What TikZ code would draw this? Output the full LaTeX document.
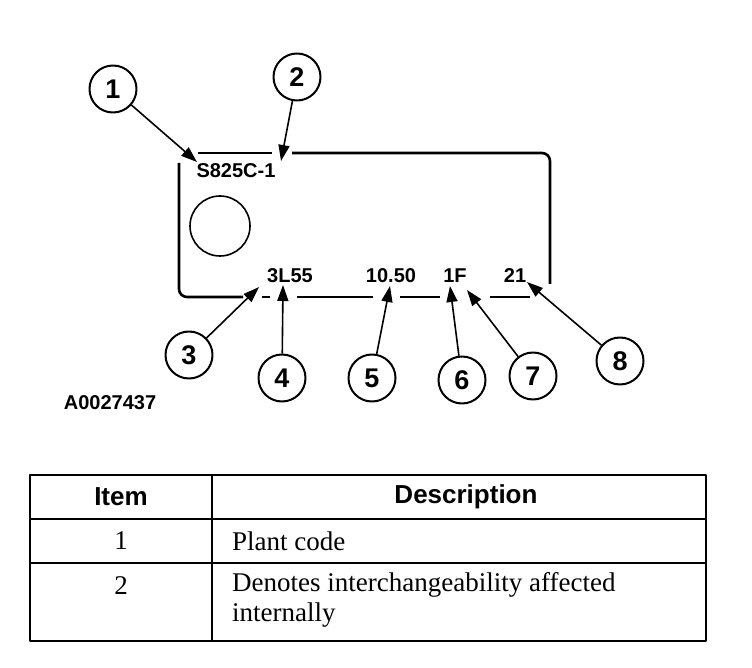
\documentclass[tikz,border=0pt]{standalone}
\usepackage{fontspec}
\setmainfont{Liberation Serif}
\setsansfont{Liberation Sans}
\usetikzlibrary{arrows.meta}

\begin{document}
\begin{tikzpicture}[x=1pt,y=-1pt,line join=round,>={Triangle[length=16pt,width=11pt]}]
	\tikzset{callout/.style={draw,circle,line width=2pt,minimum size=47pt,inner sep=0pt,font=\sffamily\bfseries\fontsize{27}{27}\selectfont},
		platetext/.style={font=\sffamily\bfseries\fontsize{20}{20}\selectfont,inner sep=0pt},
		tabletext/.style={font=\fontsize{27}{30}\selectfont,inner sep=0pt},
		tablehead/.style={font=\sffamily\bfseries\fontsize{26}{26}\selectfont,inner sep=0pt},
		lead/.style={->,line width=1.6pt}}
	\useasboundingbox (0,0) rectangle (752,668);
	% plate outline
	\draw[line width=2.6pt] (198,153)--(272,153);
	\draw[line width=2.6pt,rounded corners=8pt] (292,153)--(550,153)--(550,284);
	\draw[line width=2.6pt,rounded corners=8pt] (179,163)--(179,297)--(243,297);
	\draw[line width=2.6pt] (262,297)--(270,297) (297,297)--(373,297) (400,297)--(440,297) (490,297)--(530,297);
	\draw[line width=1.6pt] (220,226) circle (30);
	% stamped marks
	\node[platetext] (code) at (236,171) {S825C-1};
	\node[platetext] (lot) at (290,276) {3L55};
	\node[platetext] (amp) at (391,276) {10.50};
	\node[platetext] (shift) at (455,276) {1F};
	\node[platetext] (day) at (515,276) {21};
	\node[platetext] (fig) at (110,403) {A0027437};
	% callouts
	\foreach \n/\x/\y in {1/113/89,2/297/77,3/189/355,4/282/378,5/372/378,6/462/380,7/533/376,8/620/361}
	\node[callout] (c\n) at (\x,\y) {\n};
	\coordinate (t1) at (197,162);
	\coordinate (t2) at (281,161);
	\coordinate (t3) at (259,287);
	\coordinate (t4) at (283,285);
	\coordinate (t5) at (390,286);
	\coordinate (t6) at (450,286);
	\coordinate (t7) at (467,290);
	\coordinate (t8) at (527,282);
	\foreach \n in {1,...,8}
	\draw[lead] (c\n)--(t\n);
	% table
	\draw[line width=1.5pt] (30,475) rectangle (706,641);
	\draw[line width=1.2pt] (212,475)--(212,641) (30,519)--(706,519) (30,563)--(706,563);
	\node[tablehead] (hitem) at (121,497) {Item};
	\node[tablehead] (hdesc) at (466,497) {Description};
	\node[tabletext] (n1) at (121,541) {1};
	\node[tabletext,anchor=west] (d1) at (232,541) {Plant code};
	\node[tabletext] (n2) at (121,586) {2};
	\node[tabletext,anchor=west,align=left] (d2) at (232,600) {Denotes interchangeability affected\\internally};
\end{tikzpicture}
\end{document}
